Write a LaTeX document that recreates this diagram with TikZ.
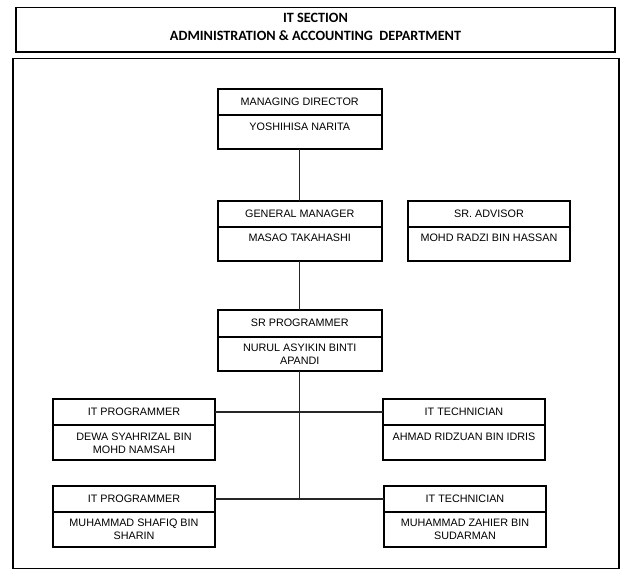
\documentclass[tikz,border=0pt]{standalone}
\usepackage{fontspec}
\setmainfont{Liberation Sans}
\newfontfamily\hdrfont{Carlito}
\begin{document}
\begin{tikzpicture}[x=1pt,y=-1pt,
  obox/.style={draw=black, line width=2pt, inner sep=0pt, outer sep=0pt, rectangle},
  frame/.style={draw=black, line width=1.2pt},
  divl/.style={draw=black, line width=2pt},
  ttl/.style={inner sep=0pt, font=\fontsize{10.8}{13}\selectfont, text=black},
  nm/.style={inner sep=0pt, font=\fontsize{10.8}{13}\selectfont, text=black, align=center, anchor=north},
  conn/.style={draw=black!85, line width=1.1pt},
  hdr/.style={inner sep=0pt, align=center, font=\hdrfont\bfseries\fontsize{14.2}{18}\selectfont}
]
\useasboundingbox (0,0) rectangle (633,578);
% header and frame
\node[frame, rectangle, inner sep=0pt, minimum width=599pt, minimum height=44.5pt] (head) at (315.5,29.75) {};
\node[hdr] (headtxt) at (315.5,26.5) {IT SECTION\\ADMINISTRATION \& ACCOUNTING\ \ DEPARTMENT};
\node[frame, rectangle, inner sep=0pt, minimum width=606pt, minimum height=510pt] (outer) at (316,313.5) {};

% box macro: name, x1, x2, y1, ydiv, y2, title, person
\newcommand{\orgbx}[8]{%
  \node[obox, minimum width={(#3-#2)*1pt}, minimum height={(#6-#4)*1pt}] (#1) at ({(#2+#3)/2},{(#4+#6)/2}) {};
  \draw[divl] (#2,#5) -- (#3,#5);
  \node[ttl] (#1-t) at ({(#2+#3)/2},{(#4+#5)/2}) {#7};
  \node[nm] (#1-n) at ({(#2+#3)/2},{#5+7.3}) {#8};
}
\orgbx{md}{217.5}{382}{89.5}{115}{149.5}{MANAGING DIRECTOR}{YOSHIHISA NARITA}
\orgbx{gm}{217.5}{382}{201}{226.5}{261}{GENERAL MANAGER}{MASAO TAKAHASHI}
\orgbx{sra}{408}{570}{201}{226.5}{261}{SR. ADVISOR}{MOHD RADZI BIN HASSAN}
\orgbx{srp}{217.5}{382}{310}{336.5}{371}{SR PROGRAMMER}{NURUL ASYIKIN BINTI\\APANDI}
\orgbx{p1}{53}{215}{399}{425}{460}{IT PROGRAMMER}{DEWA SYAHRIZAL BIN\\MOHD NAMSAH}
\orgbx{t1}{383}{545}{399}{425}{460}{IT TECHNICIAN}{AHMAD RIDZUAN BIN IDRIS}
\orgbx{p2}{53}{215}{486}{511.5}{547}{IT PROGRAMMER}{MUHAMMAD SHAFIQ BIN\\SHARIN}
\orgbx{t2}{384}{546}{486}{511.5}{547}{IT TECHNICIAN}{MUHAMMAD ZAHIER BIN\\SUDARMAN}

% connectors
\coordinate (j1) at (299.75,412);
\coordinate (j2) at (299.75,499);
\draw[conn] (md.south) -- (gm.north);
\draw[conn] (gm.south) -- (srp.north);
\draw[conn] (srp.south) -- (j2);
\draw[conn] (p1.east |- j1) -- (t1.west |- j1);
\draw[conn] (p2.east |- j2) -- (t2.west |- j2);
\end{tikzpicture}
\end{document}
